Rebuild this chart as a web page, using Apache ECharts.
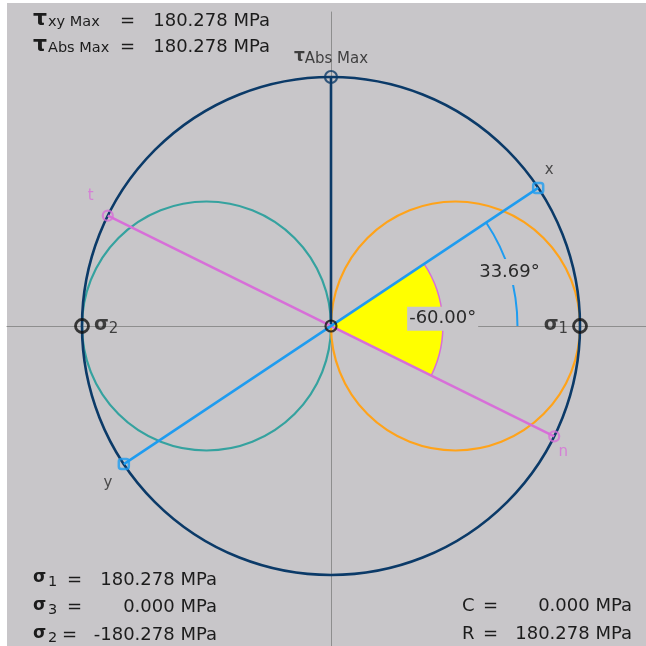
<!DOCTYPE html>
<html>
<head>
<meta charset="utf-8">
<script src="https://cdn.jsdelivr.net/npm/echarts@6/dist/echarts.min.js"></script>
<style>
  html, body { margin: 0; padding: 0; background: #ffffff; }
  #panel { position: absolute; left: 7px; top: 3px; width: 639px; height: 643px; background: #c8c6c9; }
  #chart { position: absolute; left: 0; top: 0; width: 646px; height: 646px; }
</style>
</head>
<body>
<div id="panel"></div>
<div id="chart"></div>
<script>
// Mohr's circle for a plane stress state, all stresses in MPa
const centerStress = 0.000;                 // C
const radiusStress = 180.278;               // R
const sigma1 = 180.278;
const sigma3 = 0.000;
const sigma2 = -180.278;
const tauXYMax = 180.278;
const tauAbsMax = 180.278;

// stress points on the circle [sigma, tau]
const pointX = [150.0, 100.0];
const pointY = [-150.0, -100.0];
const pointN = [161.6, -79.9];
const pointT = [-161.6, 79.9];

// angles (degrees)
const angle2Theta = 33.69;    // x point measured from the sigma1 axis
const rotationAngle = -60.00; // rotation from x to n

// Mohr circles: [center, radius]
const circleBig = [0.000, 180.278];
const circle13 = [90.139, 90.139];
const circle32 = [-90.139, 90.139];

// arc radii for the angle markers (MPa)
const sectorRadius = 81;
const arcRadius = 135;

// ---- layout ----
const pxPerMPa = 249 / radiusStress;
const originPx = [331, 326];
const plotBox = { left: 7, top: 12, right: 646, bottom: 646 };
const xMin = (plotBox.left - originPx[0]) / pxPerMPa;
const xMax = (plotBox.right - originPx[0]) / pxPerMPa;
const yMin = (originPx[1] - plotBox.bottom) / pxPerMPa;
const yMax = (originPx[1] - plotBox.top) / pxPerMPa;

const C_BG = '#c8c6c9';
const C_AXIS = '#8e8e8e';
const C_NAVY = '#0b3a68';
const C_ORANGE = '#ffa31a';
const C_TEAL = '#35a29f';
const C_BLUE = '#1e9cf0';
const C_PINK = '#d76fd8';
const C_TEXT = '#1c1c1c';
const FONT = 'DejaVu Sans';

const chart = echarts.init(document.getElementById('chart'), null, { renderer: 'canvas' });

function circleSeries(circ, color, width) {
  return {
    type: 'custom',
    coordinateSystem: 'cartesian2d',
    silent: true,
    data: [circ],
    renderItem: function (params, api) {
      const c = api.coord([api.value(0), 0]);
      const r = api.size([api.value(1), 0])[0];
      return {
        type: 'circle',
        shape: { cx: c[0], cy: c[1], r: r },
        style: { fill: 'none', stroke: color, lineWidth: width }
      };
    }
  };
}

function segment(a, b, color, width) {
  return {
    type: 'line',
    data: [a, b],
    symbol: 'none',
    silent: true,
    lineStyle: { color: color, width: width },
    z: 3
  };
}

const greekRich = function (gSize, sSize) {
  return {
    g: { fontFamily: FONT, fontSize: gSize, fontWeight: 'bold', color: C_TEXT, lineHeight: gSize + 2, verticalAlign: 'top' },
    s: { fontFamily: FONT, fontSize: sSize, color: C_TEXT, lineHeight: sSize + 2, verticalAlign: 'bottom' }
  };
};

function ring(data, color, size, width, label) {
  return {
    type: 'scatter',
    data: data,
    symbol: 'circle',
    symbolSize: size,
    silent: true,
    itemStyle: { color: 'rgba(0,0,0,0)', borderColor: color, borderWidth: width },
    label: label || { show: false },
    z: 5
  };
}

function pointLabel(text, color, offset) {
  return {
    show: true, position: 'inside', offset: offset, formatter: text,
    fontFamily: FONT, fontSize: 15, color: color
  };
}

// corner readouts
function txt(x, y, text, size, opts) {
  return {
    type: 'text', x: x, y: y, silent: true,
    style: Object.assign({
      text: text, fill: C_TEXT, fontFamily: FONT, fontSize: size,
      align: 'left', verticalAlign: 'middle'
    }, opts || {})
  };
}
const bold = { fontWeight: 'bold' };
const right = { align: 'right' };

const graphics = [
  // tau xy max
  txt(33, 19, 'τ', 22, bold), txt(48, 22, 'xy Max', 14.5), txt(120, 21, '=', 18),
  txt(270, 21, tauXYMax.toFixed(3) + ' MPa', 18, right),
  // tau abs max
  txt(33, 45, 'τ', 22, bold), txt(48, 48, 'Abs Max', 14.5), txt(120, 47, '=', 18),
  txt(270, 47, tauAbsMax.toFixed(3) + ' MPa', 18, right),
  // principal stresses
  txt(33, 578, 'σ', 17, bold), txt(48, 582, '1', 14.5), txt(67, 580, '=', 18),
  txt(217, 580, sigma1.toFixed(3) + ' MPa', 18, right),
  txt(33, 606, 'σ', 17, bold), txt(48, 610, '3', 14.5), txt(67, 607, '=', 18),
  txt(217, 607, sigma3.toFixed(3) + ' MPa', 18, right),
  txt(33, 634, 'σ', 17, bold), txt(48, 638, '2', 14.5), txt(62, 635, '=', 18),
  txt(217, 635, sigma2.toFixed(3) + ' MPa', 18, right),
  // center and radius
  txt(462, 606, 'C', 18), txt(483, 606, '=', 18),
  txt(632, 606, centerStress.toFixed(3) + ' MPa', 18, right),
  txt(462, 634, 'R', 18), txt(483, 634, '=', 18),
  txt(632, 634, radiusStress.toFixed(3) + ' MPa', 18, right)
];

const option = {
  backgroundColor: 'transparent',
  animation: false,
  grid: {
    show: false,
    left: plotBox.left, top: plotBox.top, right: 646 - plotBox.right, bottom: 646 - plotBox.bottom
  },
  xAxis: {
    type: 'value', min: xMin, max: xMax,
    axisLine: { show: true, onZero: true, lineStyle: { color: C_AXIS, width: 1 } },
    axisTick: { show: false }, axisLabel: { show: false }, splitLine: { show: false }
  },
  yAxis: {
    type: 'value', min: yMin, max: yMax,
    axisLine: { show: true, onZero: true, lineStyle: { color: C_AXIS, width: 1 } },
    axisTick: { show: false }, axisLabel: { show: false }, splitLine: { show: false }
  },
  graphic: graphics,
  series: [
    // rotation sector from x to n
    {
      type: 'custom', coordinateSystem: 'cartesian2d', silent: true, z: 2,
      data: [[angle2Theta, rotationAngle, sectorRadius]],
      renderItem: function (params, api) {
        const c = api.coord([centerStress, 0]);
        const r = api.size([api.value(2), 0])[0];
        const a0 = -api.value(0) * Math.PI / 180;
        const a1 = -(api.value(0) + api.value(1)) * Math.PI / 180;
        return {
          type: 'sector',
          shape: { cx: c[0], cy: c[1], r0: 0, r: r, startAngle: a0, endAngle: a1, clockwise: a1 > a0 },
          style: { fill: '#ffff00', stroke: C_PINK, lineWidth: 1.5 }
        };
      }
    },
    circleSeries(circle32, C_TEAL, 2.2),
    circleSeries(circle13, C_ORANGE, 2.2),
    circleSeries(circleBig, C_NAVY, 2.6),
    segment([centerStress, 0], [centerStress, tauAbsMax], C_NAVY, 2.6),
    ring([[centerStress, 0]], '#111111', 11, 2.2),
    segment(pointT, pointN, C_PINK, 2.5),
    segment(pointY, pointX, C_BLUE, 2.5),
    // angle labels
    {
      type: 'custom', coordinateSystem: 'cartesian2d', silent: true, z: 6,
      data: [[angle2Theta, rotationAngle]],
      renderItem: function (params, api) {
        const c = api.coord([centerStress, 0]);
        const ra = api.size([arcRadius, 0])[0];
        const rs = api.size([sectorRadius, 0])[0];
        const t = api.value(0) * Math.PI / 180;
        const m = (api.value(0) + api.value(1) / 2) * Math.PI / 180;
        return {
          type: 'group',
          children: [
            {
              type: 'arc',
              shape: { cx: c[0], cy: c[1], r: ra, startAngle: -t, endAngle: 0, clockwise: true },
              style: { fill: 'none', stroke: C_BLUE, lineWidth: 2 }
            },
            {
              type: 'text', x: c[0] + ra * Math.cos(t / 2), y: c[1] - ra * Math.sin(t / 2),
              style: {
                text: api.value(0).toFixed(2) + '°', fontFamily: FONT, fontSize: 18, fill: '#2a2a2a',
                align: 'center', verticalAlign: 'middle', backgroundColor: C_BG, padding: [4, 2]
              }
            },
            {
              type: 'text', x: c[0] + rs * Math.cos(m), y: c[1] - rs * Math.sin(m),
              style: {
                text: api.value(1).toFixed(2) + '°', fontFamily: FONT, fontSize: 18, fill: '#2a2a2a',
                align: 'center', verticalAlign: 'middle', backgroundColor: C_BG, padding: [3, 2]
              }
            }
          ]
        };
      }
    },
    // principal stress markers
    ring([[sigma1, 0]], '#111111', 13, 2.8, {
      show: true, position: 'left', distance: 4, formatter: '{g|σ}{s|1}', rich: greekRich(19, 15)
    }),
    ring([[sigma2, 0]], '#111111', 13, 2.8, {
      show: true, position: 'right', distance: 4, formatter: '{g|σ}{s|2}', rich: greekRich(19, 15)
    }),
    ring([[centerStress, tauAbsMax]], C_NAVY, 12, 2.2, {
      show: true, position: 'top', distance: 3, formatter: '{g|τ}{s|Abs Max}', rich: greekRich(17, 15)
    }),
    // x / y face points
    {
      type: 'scatter', silent: true, z: 7,
      data: [
        { value: pointX, label: pointLabel('x', '#2a2a2a', [11, -18]) },
        { value: pointY, label: pointLabel('y', '#2a2a2a', [-16, 19]) }
      ],
      symbol: 'roundRect', symbolSize: 10,
      itemStyle: { color: 'rgba(0,0,0,0)', borderColor: C_BLUE, borderWidth: 2.5 }
    },
    // n / t points
    {
      type: 'scatter', silent: true, z: 7,
      data: [
        { value: pointN, label: pointLabel('n', C_PINK, [9, 16]) },
        { value: pointT, label: pointLabel('t', C_PINK, [-17, -20]) }
      ],
      symbol: 'circle', symbolSize: 10,
      itemStyle: { color: 'rgba(0,0,0,0)', borderColor: C_PINK, borderWidth: 2.2 }
    }
  ]
};

chart.setOption(option);
</script>
</body>
</html>
